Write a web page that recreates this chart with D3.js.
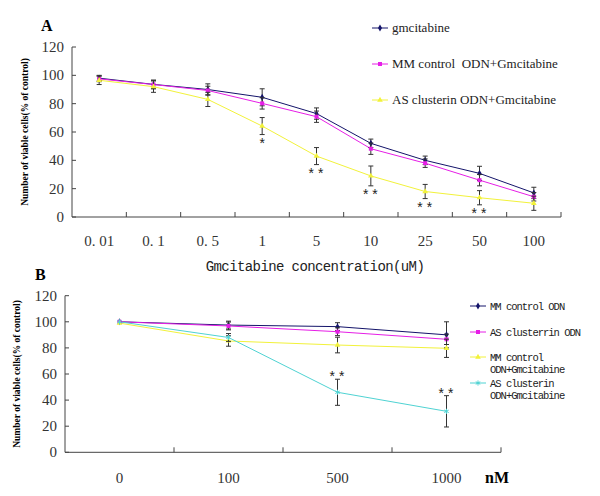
<!DOCTYPE html>
<html>
<head>
<meta charset="utf-8">
<script src="https://cdn.jsdelivr.net/npm/d3@7"></script>
<style>
  body { margin: 0; background: #fff; }
  svg { display: block; }
  text { white-space: pre; }
</style>
</head>
<body>
<svg id="svg" width="600" height="496"></svg>
<script>
// panel A data
const catsA = ['0. 01', '0. 1', '0. 5', '1', '5', '10', '25', '50', '100'];
const gmcA = [98, 93.6, 90, 84.5, 73, 52, 40, 30.8, 17];
const gmcErrA = [2, 3, 4, 6, 4, 3, 3, 5, 4];
const mmA = [97.5, 93.5, 89.3, 80.2, 70.8, 48.2, 38, 26, 14.3];
const mmErrA = [2, 3, 3, 4, 4, 4, 3, 4, 3];
const asA = [96.5, 92, 83, 64.2, 43, 29, 18, 13.6, 9.7];
const asErrA = [3, 4, 5, 6, 6, 7, 5, 5, 5];
const sigA = ['', '', '', '*', '**', '**', '**', '**', ''];

// panel B data
const catsB = ['0', '100', '500', '1000'];
const mmOdnB = [100, 97.5, 96.3, 90];
const mmOdnErrB = [0, 3, 3, 10];
const asOdnB = [100, 96.8, 92.4, 86.6];
const asOdnErrB = [0, 3, 3, 4];
const mmGmcB = [99, 85.3, 82.2, 79.7];
const mmGmcErrB = [0, 4, 6, 7];
const asGmcB = [100, 88, 46, 31.4];
const asGmcErrB = [0, 3, 10, 12];
const sigB = ['', '', '**', '**'];

const yTicks = [0, 20, 40, 60, 80, 100, 120];

const NAVY = '#14146a', MAG = '#e61ee6', YEL = '#f2f23a', CYAN = '#4fd3d3';
const svg = d3.select('#svg');

function marker(g, type, color, x, y) {
  const sym = {
    diamond: d3.symbol(d3.symbolDiamond, 14),
    square: d3.symbol(d3.symbolSquare, 16),
    triangle: d3.symbol(d3.symbolTriangle, 14),
    star: d3.symbol(d3.symbolAsterisk, 18)
  }[type];
  const p = g.append('path')
    .attr('transform', 'translate(' + x + ',' + y + ')')
    .attr('d', sym());
  if (type === 'star') p.attr('fill', 'none').attr('stroke', color).attr('stroke-width', 1);
  else p.attr('fill', color);
}

function panel(opt) {
  const g = svg.append('g');
  const x = d3.scaleBand().domain(opt.cats).range(opt.xr).padding(0);
  const y = d3.scaleLinear().domain([0, 120]).range(opt.yr);

  // axes
  g.append('line').attr('x1', opt.xr[0]).attr('x2', opt.xr[1])
    .attr('y1', y(0)).attr('y2', y(0)).attr('stroke', '#444');
  g.append('line').attr('x1', opt.xr[0]).attr('x2', opt.xr[0])
    .attr('y1', y(0)).attr('y2', y(120)).attr('stroke', '#444');
  opt.cats.forEach(function (c, i) {
    if (i === 0) return;
    g.append('line').attr('x1', x(c)).attr('x2', x(c))
      .attr('y1', y(0)).attr('y2', y(0) - 5).attr('stroke', '#444');
  });
  g.append('line').attr('x1', opt.xr[1]).attr('x2', opt.xr[1])
    .attr('y1', y(0)).attr('y2', y(0) - 5).attr('stroke', '#444');
  yTicks.forEach(function (t) {
    g.append('line').attr('x1', opt.xr[0]).attr('x2', opt.xr[0] + 4)
      .attr('y1', y(t)).attr('y2', y(t)).attr('stroke', '#444');
    g.append('text').attr('x', opt.xr[0] - 8).attr('y', y(t) + 5)
      .attr('text-anchor', 'end')
      .style('font', '15px "Liberation Serif"').attr('fill', '#333')
      .text(t);
  });
  opt.cats.forEach(function (c) {
    g.append('text').attr('x', x(c) + x.bandwidth() / 2).attr('y', opt.tickY)
      .attr('text-anchor', 'middle')
      .style('font', '15px "Liberation Serif"').attr('fill', '#333')
      .text(c);
  });

  // y title
  g.append('text')
    .attr('transform', 'translate(' + opt.titleX + ',' + ((y(0) + y(120)) / 2) + ') rotate(-90)')
    .attr('text-anchor', 'middle')
    .style('font', 'bold 9.5px "Liberation Serif"')
    .text('Number of viable cells(% of control)');

  // panel letter
  g.append('text').attr('x', opt.letterPos[0]).attr('y', opt.letterPos[1])
    .style('font', 'bold 16px "Liberation Serif"').text(opt.letter);

  const line = d3.line()
    .x(function (d, i) { return x(opt.cats[i]) + x.bandwidth() / 2; })
    .y(function (d) { return y(d); });

  opt.series.forEach(function (s) {
    g.append('path').datum(s.values)
      .attr('d', line).attr('fill', 'none')
      .attr('stroke', s.color).attr('stroke-width', 1);
  });
  opt.series.forEach(function (s) {
    s.values.forEach(function (v, i) {
      const cx = x(opt.cats[i]) + x.bandwidth() / 2;
      const e = s.err[i];
      if (e > 0) {
        g.append('line').attr('x1', cx).attr('x2', cx)
          .attr('y1', y(v - e)).attr('y2', y(v + e)).attr('stroke', '#333');
        [v - e, v + e].forEach(function (w) {
          g.append('line').attr('x1', cx - 2.5).attr('x2', cx + 2.5)
            .attr('y1', y(w)).attr('y2', y(w)).attr('stroke', '#333');
        });
      }
      marker(g, s.marker, s.color, cx, y(v));
    });
  });

  // significance marks, attached to one series
  const ss = opt.series[opt.sigIdx];
  opt.sig.forEach(function (t, i) {
    if (!t) return;
    const cx = x(opt.cats[i]) + x.bandwidth() / 2;
    const v = ss.values[i], e = ss.err[i];
    const yy = opt.sigBelow ? y(v - e) + 14 : y(v + e) + 3;
    g.append('text').attr('x', cx).attr('y', yy)
      .attr('text-anchor', 'middle')
      .style('font', '14px "Liberation Mono"').attr('fill', '#222')
      .attr('letter-spacing', t.length > 1 ? 1 : 0)
      .text(t);
  });

  // legend
  opt.series.forEach(function (s, i) {
    const ly = opt.legend.ys[i];
    g.append('line').attr('x1', opt.legend.x).attr('x2', opt.legend.x + 16)
      .attr('y1', ly).attr('y2', ly).attr('stroke', s.color);
    marker(g, s.marker, s.color, opt.legend.x + 8, ly);
    const tx = g.append('text').attr('x', opt.legend.x + 20).attr('y', ly + 4)
      .style('font', opt.legend.font).attr('fill', '#222')
      .attr('letter-spacing', opt.legend.ls);
    s.label.split('\n').forEach(function (l, j) {
      tx.append('tspan').attr('x', opt.legend.x + 20).attr('dy', j === 0 ? 0 : opt.legend.lh).text(l);
    });
  });
}

panel({
  cats: catsA, xr: [72, 561], yr: [217, 47], tickY: 246, titleX: 28,
  letter: 'A', letterPos: [41, 31],
  series: [
    { values: gmcA, err: gmcErrA, color: NAVY, marker: 'diamond', label: 'gmcitabine' },
    { values: mmA, err: mmErrA, color: MAG, marker: 'square', label: 'MM control  ODN+Gmcitabine' },
    { values: asA, err: asErrA, color: YEL, marker: 'triangle', label: 'AS clusterin ODN+Gmcitabine' }
  ],
  sig: sigA, sigIdx: 2, sigBelow: true,
  legend: { x: 372, ys: [28, 64, 100], font: '13px "Liberation Serif"', ls: 0, lh: 0 }
});

svg.append('text').attr('x', 315).attr('y', 271)
  .attr('text-anchor', 'middle')
  .style('font', '14px "Liberation Mono"').attr('letter-spacing', -0.6).attr('fill', '#222')
  .text('Gmcitabine concentration(uM)');

panel({
  cats: catsB, xr: [65, 501], yr: [452.3, 295.7], tickY: 483, titleX: 20,
  letter: 'B', letterPos: [35, 280],
  series: [
    { values: mmOdnB, err: mmOdnErrB, color: NAVY, marker: 'diamond', label: 'MM control ODN' },
    { values: asOdnB, err: asOdnErrB, color: MAG, marker: 'square', label: 'AS clusterrin ODN' },
    { values: mmGmcB, err: mmGmcErrB, color: YEL, marker: 'triangle', label: 'MM control\nODN+Gmcitabine' },
    { values: asGmcB, err: asGmcErrB, color: CYAN, marker: 'star', label: 'AS clusterin\nODN+Gmcitabine' }
  ],
  sig: sigB, sigIdx: 3, sigBelow: false,
  legend: { x: 470, ys: [306, 332, 357, 383], font: '10.5px "Liberation Mono"', ls: -1, lh: 12 }
});

svg.append('text').attr('x', 485).attr('y', 483)
  .style('font', 'bold 16px "Liberation Serif"').text('nM');
</script>
</body>
</html>
